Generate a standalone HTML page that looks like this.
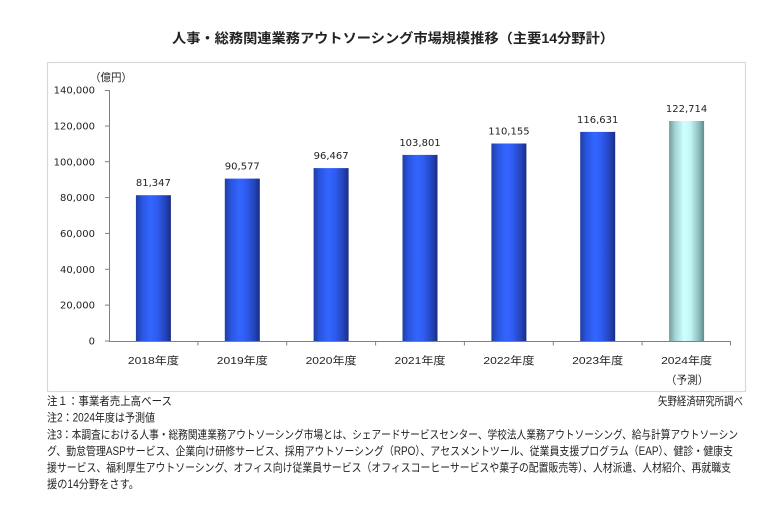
<!DOCTYPE html>
<html>
<head>
<meta charset="utf-8">
<style>
  html,body{margin:0;padding:0;background:#fff;}
  svg{display:block;}
  .num{font-family:"DejaVu Sans","Liberation Sans",sans-serif;font-size:10px;fill:#222;}
  .jp{font-family:"Liberation Sans","Noto Sans CJK JP",sans-serif;fill:#222;}
</style>
</head>
<body>
<svg width="781" height="515" viewBox="0 0 781 515" xmlns="http://www.w3.org/2000/svg">
  <defs>
    <linearGradient id="gb" x1="0" y1="0" x2="1" y2="0">
      <stop offset="0" stop-color="#1f3da6"/>
      <stop offset="0.18" stop-color="#2a55e0"/>
      <stop offset="0.42" stop-color="#3366ff"/>
      <stop offset="0.6" stop-color="#2f5cf2"/>
      <stop offset="0.85" stop-color="#2343b8"/>
      <stop offset="1" stop-color="#1a2c84"/>
    </linearGradient>
    <linearGradient id="gc" x1="0" y1="0" x2="1" y2="0">
      <stop offset="0" stop-color="#6f9c9c"/>
      <stop offset="0.18" stop-color="#a6d6d6"/>
      <stop offset="0.42" stop-color="#ccffff"/>
      <stop offset="0.6" stop-color="#c4f8f8"/>
      <stop offset="0.85" stop-color="#8fbcbc"/>
      <stop offset="1" stop-color="#5e8b8b"/>
    </linearGradient>
  </defs>

  <rect x="0" y="0" width="781" height="515" fill="#fff"/>

  <!-- Title -->
  <text class="jp" x="172" y="43" font-size="13.5" font-weight="bold" fill="#333" textLength="442" lengthAdjust="spacingAndGlyphs">人事・総務関連業務アウトソーシング市場規模推移（主要14分野計）</text>

  <!-- Chart frame -->
  <rect x="47.5" y="62.5" width="698" height="329" fill="#fff" stroke="#d9d9d9" stroke-width="1.2"/>

  <!-- unit -->
  <text class="jp" x="90" y="81" font-size="11" textLength="42" lengthAdjust="spacingAndGlyphs">（億円）</text>

  <!-- Y axis -->
  <line x1="109.5" y1="90" x2="109.5" y2="341" stroke="#808080" stroke-width="1"/>
  <g stroke="#808080" stroke-width="1">
    <line x1="105" y1="90.5" x2="109.5" y2="90.5"/>
    <line x1="105" y1="126" x2="109.5" y2="126"/>
    <line x1="105" y1="161.7" x2="109.5" y2="161.7"/>
    <line x1="105" y1="197.6" x2="109.5" y2="197.6"/>
    <line x1="105" y1="233.4" x2="109.5" y2="233.4"/>
    <line x1="105" y1="269.3" x2="109.5" y2="269.3"/>
    <line x1="105" y1="305.1" x2="109.5" y2="305.1"/>
    <line x1="105" y1="341" x2="109.5" y2="341"/>
  </g>
  <g class="num" text-anchor="end">
    <text x="95" y="93.6">140,000</text>
    <text x="95" y="129.5">120,000</text>
    <text x="95" y="165.3">100,000</text>
    <text x="95" y="201.2">80,000</text>
    <text x="95" y="237">60,000</text>
    <text x="95" y="272.9">40,000</text>
    <text x="95" y="308.7">20,000</text>
    <text x="95" y="344.6">0</text>
  </g>

  <!-- Bars -->
  <rect x="135.9" y="195.2" width="35" height="145.8" fill="url(#gb)"/>
  <rect x="224.8" y="178.6" width="35" height="162.4" fill="url(#gb)"/>
  <rect x="313.6" y="168.1" width="35" height="172.9" fill="url(#gb)"/>
  <rect x="402.5" y="154.9" width="35" height="186.1" fill="url(#gb)"/>
  <rect x="491.4" y="143.5" width="35" height="197.5" fill="url(#gb)"/>
  <rect x="580.2" y="131.9" width="35" height="209.1" fill="url(#gb)"/>
  <rect x="669.1" y="121" width="35" height="220" fill="url(#gc)"/>

  <!-- X axis -->
  <line x1="109" y1="341.5" x2="731" y2="341.5" stroke="#808080" stroke-width="1"/>
  <g stroke="#808080" stroke-width="1">
    <line x1="197.9" y1="341.5" x2="197.9" y2="345.5"/>
    <line x1="286.7" y1="341.5" x2="286.7" y2="345.5"/>
    <line x1="375.6" y1="341.5" x2="375.6" y2="345.5"/>
    <line x1="464.4" y1="341.5" x2="464.4" y2="345.5"/>
    <line x1="553.3" y1="341.5" x2="553.3" y2="345.5"/>
    <line x1="642.1" y1="341.5" x2="642.1" y2="345.5"/>
    <line x1="730.5" y1="341.5" x2="730.5" y2="345.5"/>
  </g>

  <!-- Value labels -->
  <g class="num" text-anchor="middle">
    <text x="153.4" y="186.2">81,347</text>
    <text x="242.3" y="169.6">90,577</text>
    <text x="331.1" y="159.1">96,467</text>
    <text x="420" y="145.9">103,801</text>
    <text x="508.9" y="134.5">110,155</text>
    <text x="597.7" y="122.9">116,631</text>
    <text x="686.6" y="112">122,714</text>
  </g>

  <!-- Category labels -->
  <g class="jp" font-size="10.5" text-anchor="middle">
    <text x="153.4" y="364" textLength="51" lengthAdjust="spacingAndGlyphs">2018年度</text>
    <text x="242.3" y="364" textLength="51" lengthAdjust="spacingAndGlyphs">2019年度</text>
    <text x="331.1" y="364" textLength="51" lengthAdjust="spacingAndGlyphs">2020年度</text>
    <text x="420" y="364" textLength="51" lengthAdjust="spacingAndGlyphs">2021年度</text>
    <text x="508.9" y="364" textLength="51" lengthAdjust="spacingAndGlyphs">2022年度</text>
    <text x="597.7" y="364" textLength="51" lengthAdjust="spacingAndGlyphs">2023年度</text>
    <text x="686.6" y="364" textLength="51" lengthAdjust="spacingAndGlyphs">2024年度</text>
  </g>
  <text class="jp" x="665.6" y="383.5" font-size="11" textLength="43" lengthAdjust="spacingAndGlyphs">（予測）</text>

  <!-- Notes -->
  <g class="jp" font-size="11.5" fill="#222">
    <text x="47" y="405" textLength="125" lengthAdjust="spacingAndGlyphs">注１：事業者売上高ベース</text>
    <text x="743" y="405" text-anchor="end" textLength="85" lengthAdjust="spacingAndGlyphs">矢野経済研究所調べ</text>
    <text x="47" y="421.5" textLength="108" lengthAdjust="spacingAndGlyphs">注2：2024年度は予測値</text>
    <text x="47" y="438.5" textLength="691" lengthAdjust="spacingAndGlyphs">注3：本調査における人事・総務関連業務アウトソーシング市場とは、シェアードサービスセンター、学校法人業務アウトソーシング、給与計算アウトソーシン</text>
    <text x="47" y="455" textLength="686" lengthAdjust="spacingAndGlyphs">グ、勤怠管理ASPサービス、企業向け研修サービス、採用アウトソーシング（RPO）、アセスメントツール、従業員支援プログラム（EAP）、健診・健康支</text>
    <text x="47" y="471.5" textLength="684" lengthAdjust="spacingAndGlyphs">援サービス、福利厚生アウトソーシング、オフィス向け従業員サービス（オフィスコーヒーサービスや菓子の配置販売等）、人材派遣、人材紹介、再就職支</text>
    <text x="47" y="488" textLength="92" lengthAdjust="spacingAndGlyphs">援の14分野をさす。</text>
  </g>
</svg>
</body>
</html>
